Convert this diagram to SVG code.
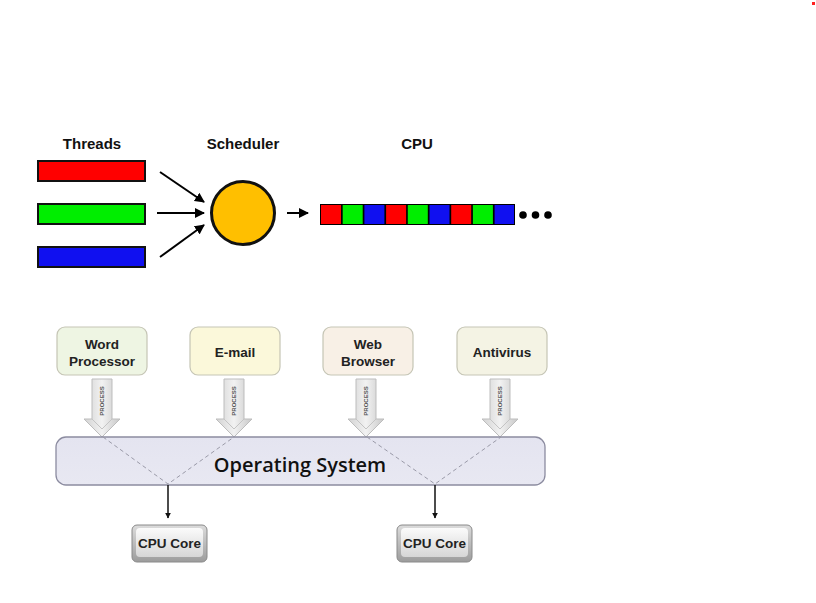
<svg xmlns="http://www.w3.org/2000/svg" width="816" height="603" viewBox="0 0 816 603">
<defs>
<style>
.lbl{font-family:"Liberation Sans",Arial,sans-serif;font-weight:bold;font-size:15px;fill:#111;text-anchor:middle}
.app{font-family:"Liberation Sans",Arial,sans-serif;font-weight:bold;font-size:13.5px;fill:#222;text-anchor:middle}
.proc{font-family:"Liberation Sans",Arial,sans-serif;font-weight:bold;font-size:6px;fill:#555;text-anchor:middle}
.bar{stroke:#111;stroke-width:2}
.arr{stroke:#000;stroke-width:2;fill:none}
.dash{stroke:#9a9aa8;stroke-width:1;stroke-dasharray:4 3;fill:none}
.box{stroke:#c5c5b5;stroke-width:1.2}
.parrow{fill:url(#pg);stroke:#bdbdbd;stroke-width:1}
</style>
<marker id="ah" viewBox="0 0 10 10" refX="9" refY="5" markerWidth="5" markerHeight="5" orient="auto" markerUnits="strokeWidth">
<path d="M0,0 L10,5 L0,10 z" fill="#000"/>
</marker>
<marker id="ah2" viewBox="0 0 10 10" refX="9" refY="5" markerWidth="4" markerHeight="4" orient="auto" markerUnits="strokeWidth">
<path d="M0,0 L10,5 L0,10 z" fill="#111"/>
</marker>
<linearGradient id="pg" x1="0" y1="0" x2="1" y2="0">
<stop offset="0" stop-color="#d2d2d2"/>
<stop offset="0.5" stop-color="#f2f2f2"/>
<stop offset="1" stop-color="#c8c8c8"/>
</linearGradient>
<linearGradient id="osg" x1="0" y1="0" x2="0" y2="1">
<stop offset="0" stop-color="#e4e4f0"/>
<stop offset="1" stop-color="#e8e8f2"/>
</linearGradient>
<linearGradient id="cg" x1="0" y1="0" x2="0" y2="1">
<stop offset="0" stop-color="#dcdcdc"/>
<stop offset="1" stop-color="#9c9c9c"/>
</linearGradient>
<linearGradient id="cgi" x1="0" y1="0" x2="0" y2="1">
<stop offset="0" stop-color="#fbfbfb"/>
<stop offset="1" stop-color="#d6d6d6"/>
</linearGradient>
<g id="proc">
<path class="parrow" d="M-10,0 L10,0 L10,40 L18,40 L0,58 L-18,40 L-10,40 Z"/>
<path d="M-10,40 L0,50 L10,40" fill="none" stroke="#c4c4c4" stroke-width="1"/>
<text class="proc" transform="translate(2,22) rotate(-90)">PROCESS</text>
</g>
</defs>

<rect x="812" y="2" width="3" height="3" fill="#ff2020"/>

<g id="labels">
<text class="lbl" x="92" y="149">Threads</text>
<text class="lbl" x="243" y="149">Scheduler</text>
<text class="lbl" x="417" y="149">CPU</text>
</g>

<g id="threads">
<rect class="bar" x="38" y="161" width="107" height="20" fill="#ff0000"/>
<rect class="bar" x="38" y="204" width="107" height="20" fill="#00ee00"/>
<rect class="bar" x="38" y="247" width="107" height="20" fill="#1010f0"/>
</g>

<g id="scheduler">
<circle cx="243" cy="213" r="31.5" fill="#ffbf00" stroke="#111" stroke-width="3"/>
</g>

<g id="cpu">
<rect x="320" y="204" width="195" height="21" fill="#000"/>
<rect x="321" y="205" width="20" height="19" fill="#ff0000"/>
<rect x="342.7" y="205" width="20" height="19" fill="#00ee00"/>
<rect x="364.4" y="205" width="20" height="19" fill="#1010f0"/>
<rect x="386.1" y="205" width="20" height="19" fill="#ff0000"/>
<rect x="407.8" y="205" width="20" height="19" fill="#00ee00"/>
<rect x="429.5" y="205" width="20" height="19" fill="#1010f0"/>
<rect x="451.2" y="205" width="20" height="19" fill="#ff0000"/>
<rect x="472.9" y="205" width="20" height="19" fill="#00ee00"/>
<rect x="494.6" y="205" width="19.4" height="19" fill="#1010f0"/>
<circle cx="523" cy="215" r="3.8" fill="#000"/>
<circle cx="535.5" cy="215" r="3.8" fill="#000"/>
<circle cx="548" cy="215" r="3.8" fill="#000"/>
</g>

<g id="top-connectors">
<line class="arr" x1="160" y1="172" x2="204" y2="202" marker-end="url(#ah)"/>
<line class="arr" x1="157" y1="213" x2="204" y2="213" marker-end="url(#ah)"/>
<line class="arr" x1="160" y1="257" x2="204" y2="225" marker-end="url(#ah)"/>
<line class="arr" x1="287" y1="213" x2="308" y2="213" marker-end="url(#ah)"/>
</g>

<g id="app-word">
<rect class="box" x="57" y="327" width="90" height="48" rx="8" fill="#eef5e3"/>
<text class="app" x="102" y="349">Word</text>
<text class="app" x="102" y="366">Processor</text>
</g>
<g id="app-email">
<rect class="box" x="190" y="327" width="90" height="48" rx="8" fill="#fbf8da"/>
<text class="app" x="235" y="357">E-mail</text>
</g>
<g id="app-web">
<rect class="box" x="323" y="327" width="90" height="48" rx="8" fill="#f8f0e6"/>
<text class="app" x="368" y="349">Web</text>
<text class="app" x="368" y="366">Browser</text>
</g>
<g id="app-antivirus">
<rect class="box" x="457" y="327" width="90" height="48" rx="8" fill="#f4f3e4"/>
<text class="app" x="502" y="357">Antivirus</text>
</g>

<g id="process-arrows">
<use href="#proc" x="102" y="379"/>
<use href="#proc" x="234" y="379"/>
<use href="#proc" x="366" y="379"/>
<use href="#proc" x="500" y="379"/>
</g>

<g id="os">
<rect x="56" y="437" width="489" height="48" rx="10" fill="url(#osg)" stroke="#8c8ca0" stroke-width="1.3"/>
<text x="300" y="472" font-family="'Open Sans','Liberation Sans',sans-serif" font-size="20" font-weight="600" fill="#111" text-anchor="middle">Operating System</text>
</g>

<g id="os-connectors">
<polyline class="dash" points="103,437 168,484 234,437"/>
<polyline class="dash" points="367,437 435,484 501,437"/>
<line x1="168" y1="485" x2="168" y2="518" stroke="#111" stroke-width="1.5" marker-end="url(#ah2)"/>
<line x1="435" y1="485" x2="435" y2="518" stroke="#111" stroke-width="1.5" marker-end="url(#ah2)"/>
</g>

<g id="cpu-core-1">
<rect x="132" y="525" width="75" height="37" rx="5" fill="url(#cg)" stroke="#8a8a8a" stroke-width="1"/>
<rect x="136" y="528" width="67" height="29" rx="4" fill="url(#cgi)"/>
<text class="app" x="169.5" y="548" font-size="12.5">CPU Core</text>
</g>
<g id="cpu-core-2">
<rect x="397" y="525" width="75" height="37" rx="5" fill="url(#cg)" stroke="#8a8a8a" stroke-width="1"/>
<rect x="401" y="528" width="67" height="29" rx="4" fill="url(#cgi)"/>
<text class="app" x="434.5" y="548" font-size="12.5">CPU Core</text>
</g>
</svg>
